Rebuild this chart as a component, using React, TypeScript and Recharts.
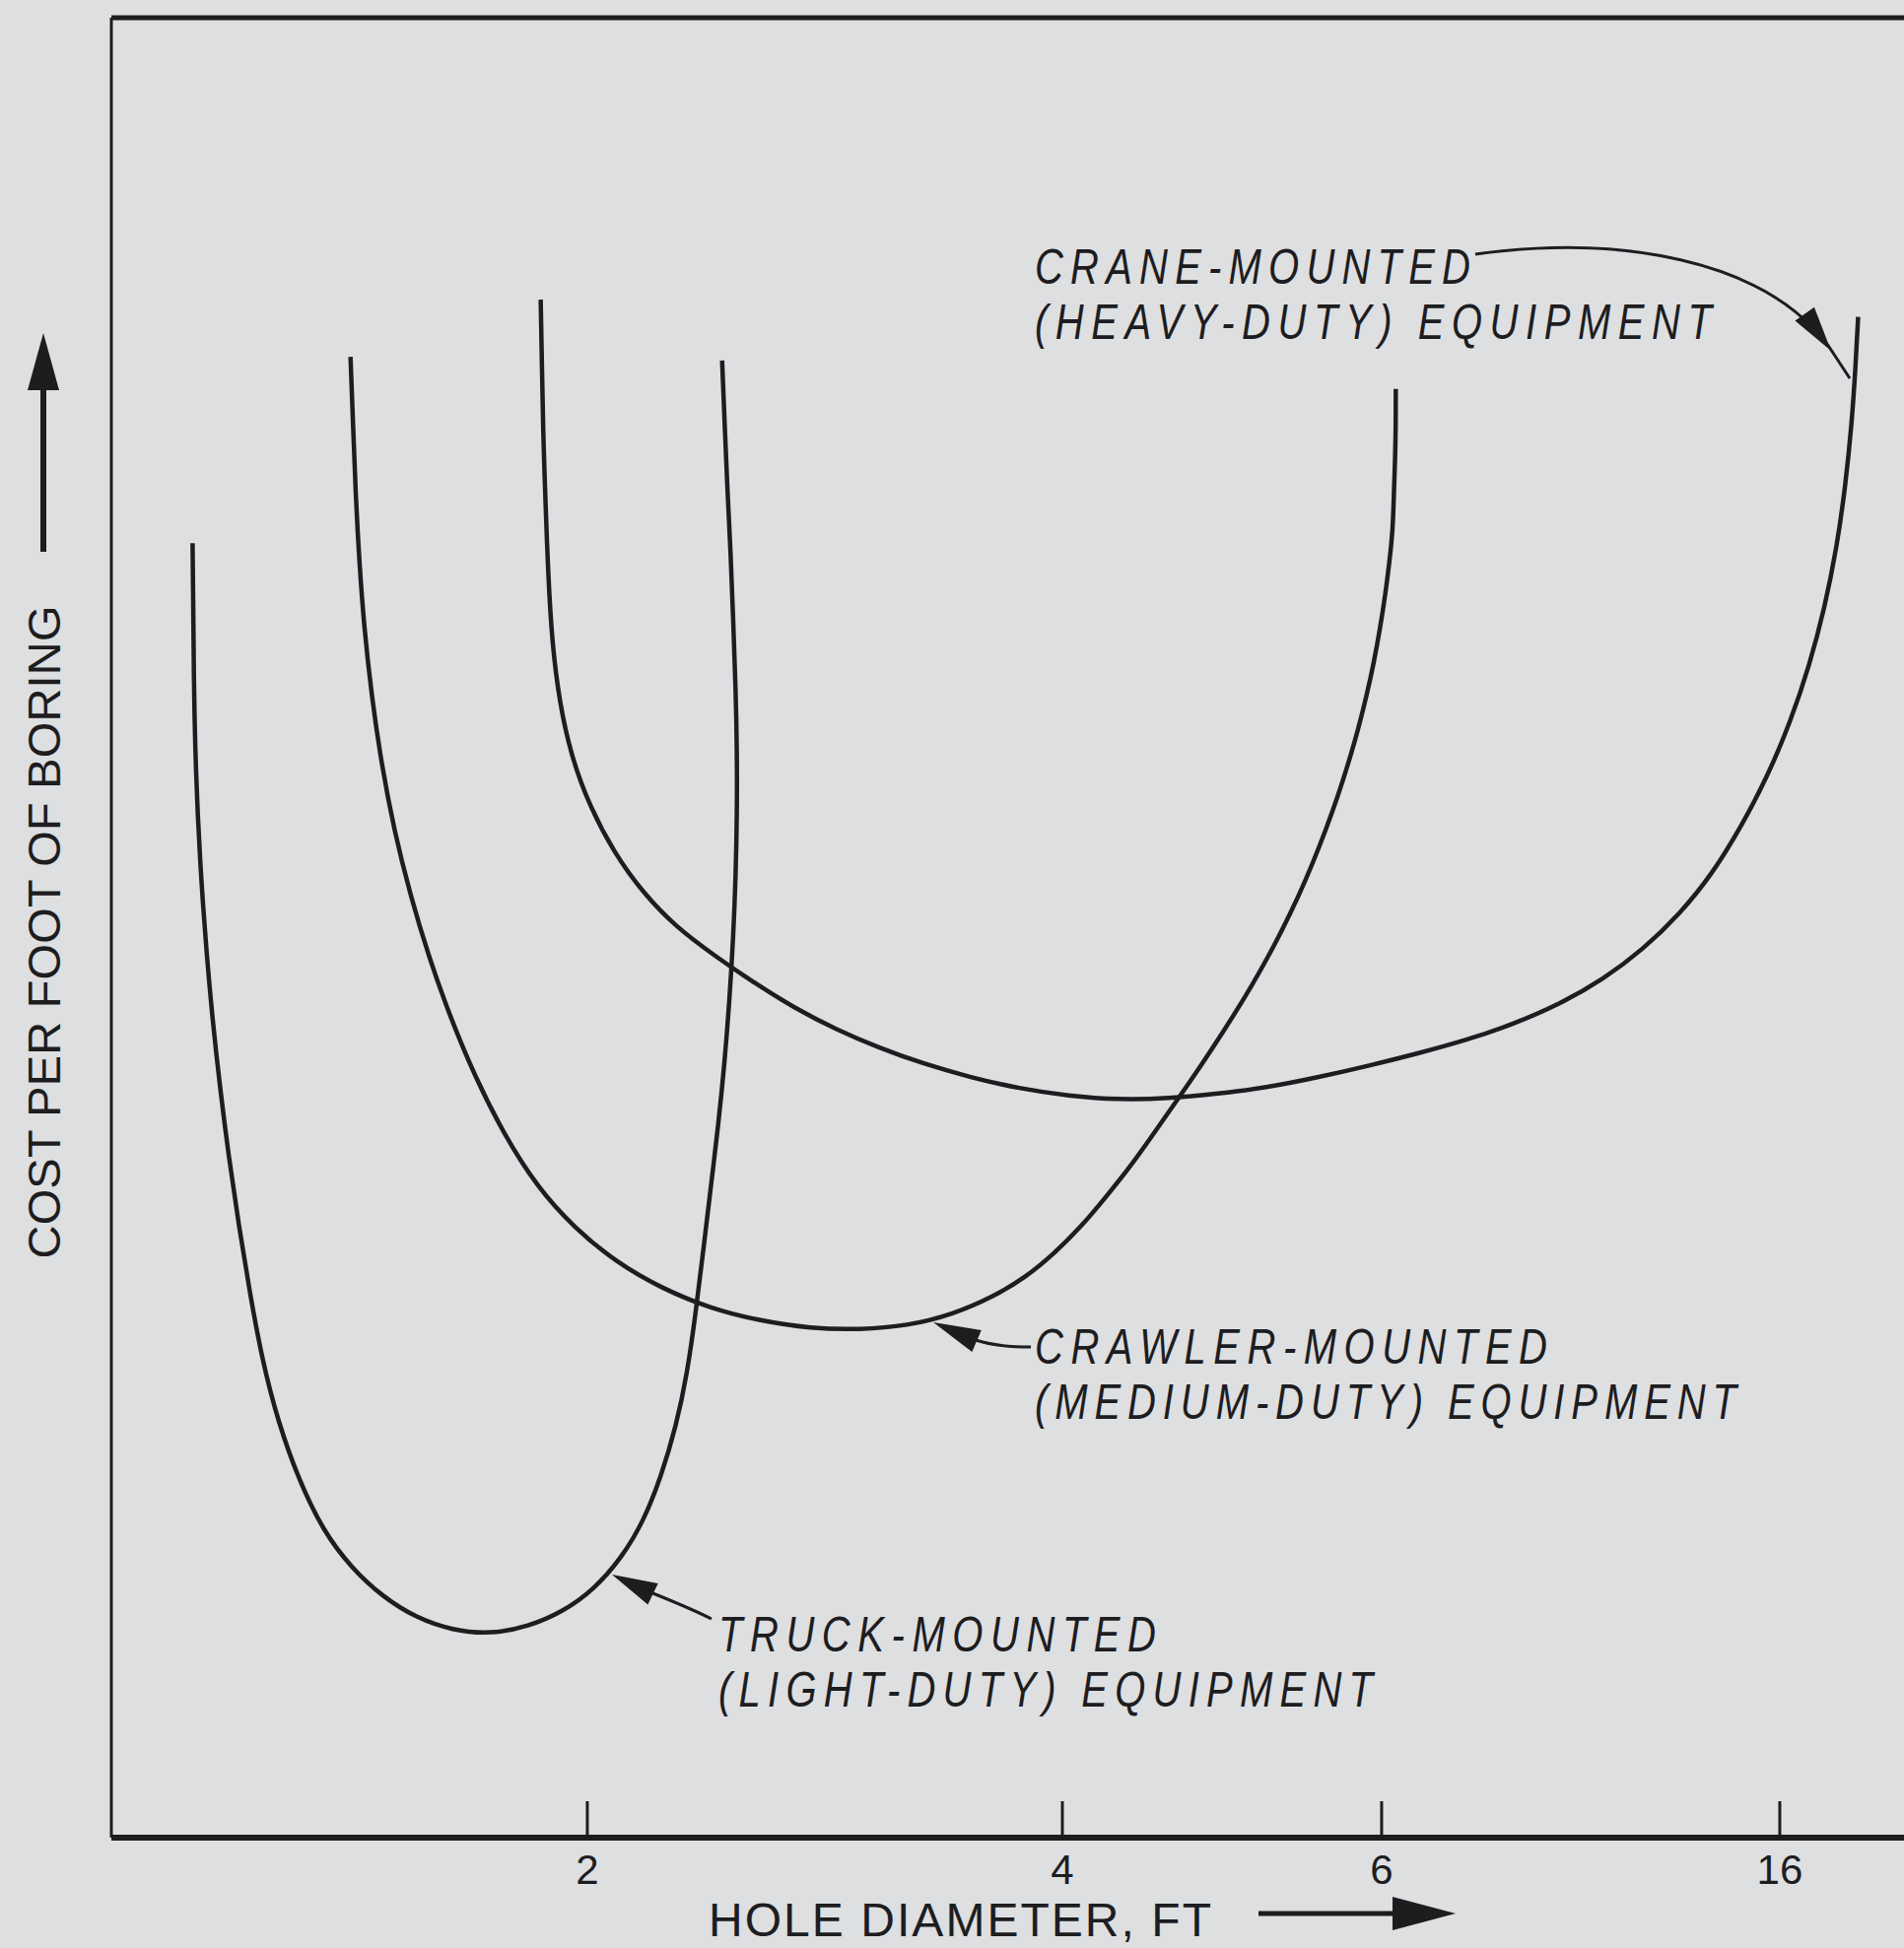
import React from 'react';
import { LineChart, Line, XAxis, YAxis, ReferenceLine, Customized } from 'recharts';

const W = 1932;
const H = 1977;
const MARGIN = { top: 18, right: 0, bottom: 52, left: 53 };
const INK = '#1d1d1f';
const PAPER = '#dddfe1';
const SANS = "'Liberation Sans', Arial, Helvetica, sans-serif";
const NOTE_SQUEEZE = 0.8;

// schematic chart: x = position along the hole-diameter axis (0..100), y = relative cost (0..100)
const TICK_POS = [26.55, 53.05, 70.86, 93.07];
const TICK_LABELS = ['2', '4', '6', '16'];

const TRUCK_X = [4.53, 4.57, 4.6, 4.67, 4.81, 5.02, 5.3, 5.64, 6.06, 6.54, 7.1, 7.72, 8.42, 9.32, 10.43, 11.81, 13.41, 15.14, 17.01, 19.02, 21.17, 23.25, 25.19, 26.93, 28.45, 29.7, 30.67, 31.5, 32.13, 32.61, 33.03, 33.44, 33.86, 34.21, 34.48, 34.69, 34.83, 34.9, 34.9, 34.83, 34.69, 34.55, 34.35, 34.21, 34.07];
const TRUCK_Y = [71.13, 67.51, 63.76, 60.0, 56.25, 52.49, 48.74, 44.98, 41.22, 37.47, 33.71, 29.96, 26.2, 22.79, 19.72, 16.85, 14.8, 13.23, 12.07, 11.39, 11.18, 11.59, 12.41, 13.64, 15.35, 17.4, 19.85, 22.59, 25.52, 28.94, 32.35, 35.76, 39.18, 42.59, 46.0, 49.42, 52.83, 56.25, 59.66, 63.07, 66.83, 70.59, 74.34, 77.75, 81.17];

const CRAWLER_X = [13.34, 13.48, 13.62, 13.82, 14.1, 14.52, 15.07, 15.77, 16.67, 17.71, 18.89, 20.27, 21.87, 23.74, 25.82, 28.18, 30.74, 33.44, 36.22, 38.99, 41.76, 44.4, 46.9, 49.25, 50.99, 52.58, 54.11, 55.49, 56.88, 58.2, 59.51, 60.8, 62.04, 63.21, 64.3, 65.29, 66.2, 67.01, 67.74, 68.41, 69.01, 69.55, 70.02, 70.43, 70.77, 71.06, 71.3, 71.49, 71.54, 71.61, 71.65, 71.65];
const CRAWLER_Y = [81.37, 77.75, 74.0, 70.24, 66.49, 62.73, 58.98, 55.36, 51.81, 48.39, 45.12, 41.84, 38.7, 35.76, 33.51, 31.6, 30.16, 29.07, 28.39, 27.98, 27.91, 28.12, 28.73, 29.75, 30.78, 32.08, 33.58, 35.22, 36.92, 38.77, 40.61, 42.45, 44.3, 46.14, 47.98, 49.83, 51.67, 53.52, 55.36, 57.2, 59.05, 60.89, 62.73, 64.58, 66.42, 68.26, 70.11, 71.95, 73.79, 75.64, 77.48, 79.6];

const CRANE_X = [23.95, 24.02, 24.09, 24.22, 24.36, 24.57, 24.99, 25.68, 26.72, 28.04, 29.63, 31.5, 33.65, 35.87, 38.09, 40.38, 42.8, 45.3, 47.94, 50.64, 53.41, 56.19, 58.96, 61.73, 64.5, 67.28, 70.05, 72.82, 75.6, 78.23, 80.8, 83.22, 85.44, 87.52, 89.32, 90.92, 92.38, 93.69, 94.73, 95.56, 96.26, 96.74, 97.09, 97.3, 97.44];
const CRANE_Y = [84.51, 80.83, 77.07, 73.32, 69.56, 65.81, 62.39, 59.32, 56.59, 54.13, 51.94, 50.03, 48.46, 46.96, 45.6, 44.43, 43.41, 42.52, 41.77, 41.16, 40.75, 40.54, 40.61, 40.88, 41.22, 41.77, 42.39, 43.07, 43.82, 44.71, 45.8, 47.16, 48.8, 50.78, 52.97, 55.56, 58.29, 61.37, 64.44, 67.51, 70.93, 74.34, 77.75, 80.83, 83.56];

const toPoints = (xs: number[], ys: number[]) => xs.map((x, i) => ({ x, y: ys[i] }));

const truck = toPoints(TRUCK_X, TRUCK_Y);
const crawler = toPoints(CRAWLER_X, CRAWLER_Y);
const crane = toPoints(CRANE_X, CRANE_Y);

const XTick = (props: any) => {
    const { x, y, payload } = props;
    const label = TICK_LABELS[TICK_POS.indexOf(payload.value)];
    return (
        <g>
            <line x1={x} y1={y} x2={x} y2={y - 37} stroke={INK} strokeWidth={3} />
            <text x={x} y={y + 47} textAnchor="middle" fontSize={42} fontFamily={SANS} fill={INK}>
                {label}
            </text>
        </g>
    );
};

// arrowhead triangle: tip point and direction
const head = (tx: number, ty: number, dx: number, dy: number, len: number, half: number) => {
    const n = Math.hypot(dx, dy);
    const ux = dx / n;
    const uy = dy / n;
    const bx = tx - ux * len;
    const by = ty - uy * len;
    return `${tx},${ty} ${bx - uy * half},${by + ux * half} ${bx + uy * half},${by - ux * half}`;
};

// narrow italic lettering, squeezed horizontally and spread to the measured width
const NoteLine = ({ x, y, w, text }: any) => (
    <text
        transform={`translate(${x},${y}) scale(${NOTE_SQUEEZE},1)`}
        x={0}
        y={0}
        textLength={w / NOTE_SQUEEZE}
        lengthAdjust="spacing"
        fontFamily={SANS}
        fontStyle="italic"
        fontSize={50}
        fill={INK}
    >
        {text}
    </text>
);

const Note = ({ x, y, w1, w2, l1, l2 }: any) => (
    <g>
        <NoteLine x={x} y={y} w={w1} text={l1} />
        <NoteLine x={x} y={y + 56} w={w2} text={l2} />
    </g>
);

const Overlay = () => (
    <g>
        {/* axis titles */}
        <text x={719} y={1965} fontSize={48} fontFamily={SANS} fill={INK} textLength={510} lengthAdjust="spacing">
            HOLE DIAMETER, FT
        </text>
        <line x1={1277} y1={1942} x2={1420} y2={1942} stroke={INK} strokeWidth={5} />
        <polygon points={head(1477, 1942, 1, 0, 64, 17)} fill={INK} />

        <text
            x={61}
            y={946}
            transform="rotate(-90 61 946)"
            textAnchor="middle"
            fontSize={47}
            fontFamily={SANS}
            fill={INK}
            textLength={663}
            lengthAdjust="spacing"
        >
            COST PER FOOT OF BORING
        </text>
        <line x1={44} y1={560} x2={44} y2={390} stroke={INK} strokeWidth={6} />
        <polygon points={head(44, 338, 0, -1, 58, 16)} fill={INK} />

        {/* curve notes */}
        <Note x={1050} y={288} w1={442} w2={687} l1="CRANE-MOUNTED" l2="(HEAVY-DUTY) EQUIPMENT" />
        <path d="M1497,258 C1640,238 1790,262 1856,352 L1877,384" fill="none" stroke={INK} strokeWidth={3} />
        <polygon points={head(1858, 356, 66, 92, 46, 12)} fill={INK} />

        <Note x={1050} y={1384} w1={520} w2={712} l1="CRAWLER-MOUNTED" l2="(MEDIUM-DUTY) EQUIPMENT" />
        <path d="M1046,1367 C1025,1367 1005,1365 990,1360" fill="none" stroke={INK} strokeWidth={3} />
        <polygon points={head(947, 1342, -44, -19, 48, 12)} fill={INK} />

        <Note x={729} y={1676} w1={444} w2={664} l1="TRUCK-MOUNTED" l2="(LIGHT-DUTY) EQUIPMENT" />
        <path d="M722,1643 C700,1632 680,1624 660,1616" fill="none" stroke={INK} strokeWidth={3} />
        <polygon points={head(621, 1598, -40, -19, 46, 12)} fill={INK} />
    </g>
);

export default function App() {
    const lineProps = {
        dataKey: 'y',
        type: 'basis' as const,
        stroke: INK,
        strokeWidth: 4.5,
        dot: false,
        activeDot: false,
        isAnimationActive: false,
    };
    return (
        <div style={{ position: 'absolute', left: 0, top: 0, width: W, height: H, background: PAPER }}>
            <LineChart width={W} height={H} margin={MARGIN}>
                <XAxis
                    type="number"
                    dataKey="x"
                    domain={[0, 100]}
                    ticks={TICK_POS}
                    tick={<XTick />}
                    tickLine={false}
                    tickSize={0}
                    tickMargin={0}
                    height={60}
                    interval={0}
                    axisLine={{ stroke: INK, strokeWidth: 6 }}
                    allowDataOverflow
                />
                <YAxis
                    type="number"
                    domain={[0, 100]}
                    width={60}
                    tick={false}
                    tickLine={false}
                    axisLine={{ stroke: INK, strokeWidth: 3 }}
                    allowDataOverflow
                />
                <ReferenceLine y={100} stroke={INK} strokeWidth={5} />
                <Line {...lineProps} data={truck} name="Truck-mounted" />
                <Line {...lineProps} data={crawler} name="Crawler-mounted" />
                <Line {...lineProps} data={crane} name="Crane-mounted" />
                <Customized component={Overlay} />
            </LineChart>
        </div>
    );
}
